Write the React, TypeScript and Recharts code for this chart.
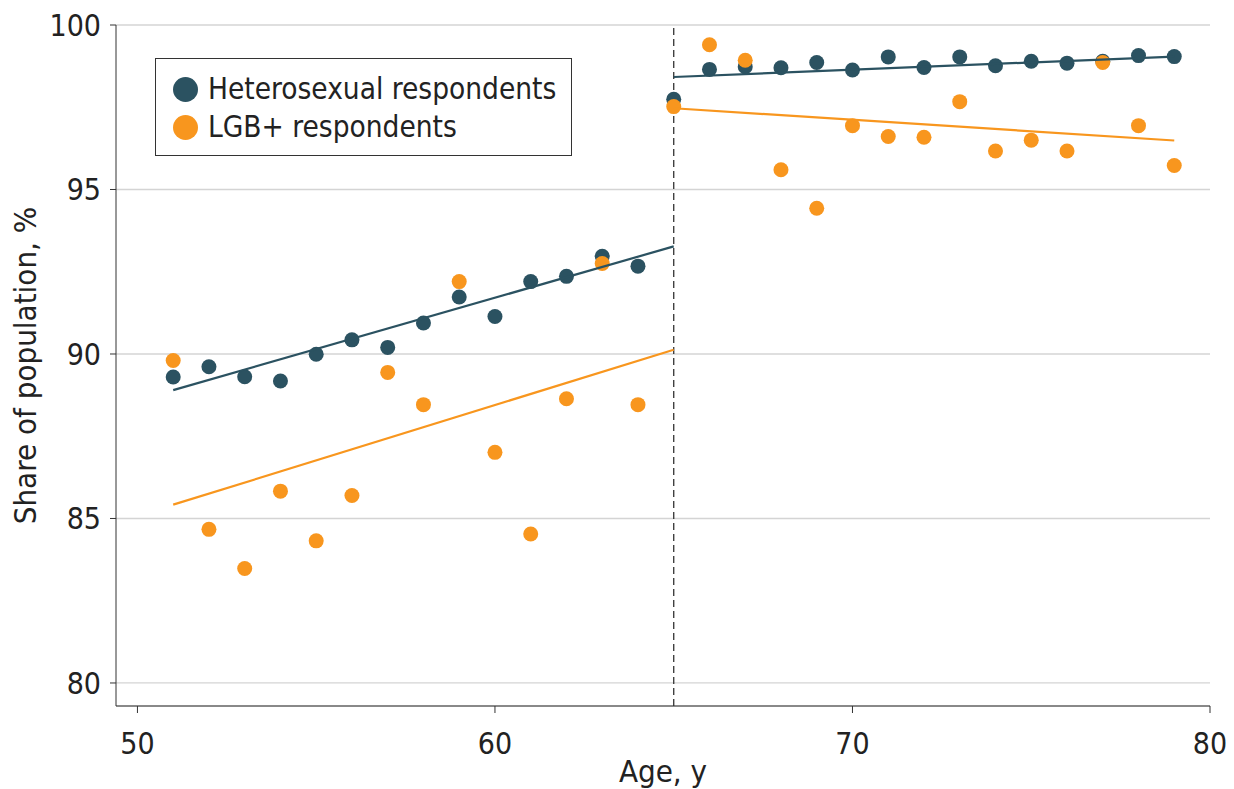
import { ScatterChart, Scatter, XAxis, YAxis, CartesianGrid, ReferenceLine } from 'recharts';

// ages shown on the x axis
const ages = [51, 52, 53, 54, 55, 56, 57, 58, 59, 60, 61, 62, 63, 64, 65, 66, 67, 68, 69, 70, 71, 72, 73, 74, 75, 76, 77, 78, 79];

// share of population, %
const heteroShare = [
  89.3, 89.61, 89.31, 89.18, 89.99, 90.43, 90.2, 90.94, 91.73, 91.14, 92.2, 92.36, 92.97, 92.67,
  97.74, 98.65, 98.73, 98.7, 98.86, 98.63, 99.03, 98.71, 99.03, 98.76, 98.9, 98.84, 98.9, 99.07, 99.04,
];
const lgbShare = [
  89.8, 84.67, 83.48, 85.83, 84.32, 85.7, 89.44, 88.46, 92.2, 87.01, 84.53, 88.64, 92.75, 88.46,
  97.52, 99.4, 98.93, 95.6, 94.43, 96.94, 96.61, 96.59, 97.67, 96.17, 96.5, 96.17, 98.86, 96.94, 95.73,
];

// fitted lines, before and after 65
const trendLeftAges = [51, 65];
const trendRightAges = [65, 79];
const heteroTrendLeft = [88.9, 93.27];
const heteroTrendRight = [98.42, 99.04];
const lgbTrendLeft = [85.42, 90.13];
const lgbTrendRight = [97.47, 96.49];

const xTicks = [50, 60, 70, 80];
const yTicks = [80, 85, 90, 95, 100];

const DARK = '#2b5261';
const ORANGE = '#f8961e';
const FONT = "'Liberation Sans Narrow', 'DejaVu Sans Condensed', 'Roboto', sans-serif";

const toPoints = (xs: number[], ys: number[]) => xs.map((age, i) => ({ age, share: ys[i] }));

const heteroData = toPoints(ages, heteroShare);
const lgbData = toPoints(ages, lgbShare);

const legendItems = [
  { name: 'Heterosexual respondents', color: DARK },
  { name: 'LGB+ respondents', color: ORANGE },
];

const dot = (color: string) => (props: any) => <circle cx={props.cx} cy={props.cy} r={7.5} fill={color} />;
const noDot = () => <g />;

function LegendBox() {
  return (
    <div
      style={{
        position: 'absolute',
        left: 155,
        top: 58,
        border: '1.3px solid #333',
        background: '#fff',
        width: 417,
        height: 98,
        boxSizing: 'border-box',
        padding: '11px 0 0 17px',
        fontFamily: FONT,
        fontSize: 29.5,
        color: '#222',
        lineHeight: '38px',
      }}
    >
      {legendItems.map((item) => (
        <div key={item.name} style={{ display: 'flex', alignItems: 'center' }}>
          <span style={{ width: 25, height: 25, borderRadius: 13, background: item.color, marginRight: 10 }} />
          {item.name}
        </div>
      ))}
    </div>
  );
}

export default function App() {
  const tickStyle = { fontSize: 30, fill: '#222', fontFamily: FONT };
  const labelStyle = { fontSize: 31, fill: '#222', fontFamily: FONT };
  return (
    <div style={{ position: 'absolute', left: 0, top: 0, width: 1234, height: 789, background: '#fff' }}>
      <ScatterChart width={1234} height={789} margin={{ top: 25, right: 24, left: 0, bottom: 0 }}>
        <CartesianGrid vertical={false} stroke="#d4d4d4" strokeWidth={1.3} />
        <XAxis
          type="number"
          dataKey="age"
          domain={[49.4, 80]}
          ticks={xTicks}
          allowDataOverflow
          height={83}
          tickSize={7}
          tickMargin={20}
          stroke="#333"
          tick={tickStyle}
          label={{ value: 'Age, y', position: 'insideBottom', offset: 7, style: labelStyle }}
        />
        <YAxis
          type="number"
          dataKey="share"
          domain={[79.3, 100]}
          ticks={yTicks}
          allowDataOverflow
          width={116}
          tickSize={6}
          tickMargin={9}
          stroke="#333"
          tick={tickStyle}
          label={{
            value: 'Share of population, %',
            angle: -90,
            position: 'insideLeft',
            offset: 25,
            style: { ...labelStyle, textAnchor: 'middle' },
          }}
        />
        <ReferenceLine x={65} stroke="#333" strokeWidth={1.3} strokeDasharray="7 4" />
        <Scatter name="Heterosexual respondents" data={heteroData} fill={DARK} shape={dot(DARK)} isAnimationActive={false} />
        <Scatter name="LGB+ respondents" data={lgbData} fill={ORANGE} shape={dot(ORANGE)} isAnimationActive={false} />
        <Scatter data={toPoints(trendLeftAges, heteroTrendLeft)} line={{ stroke: DARK, strokeWidth: 2.2 }} shape={noDot} legendType="none" isAnimationActive={false} />
        <Scatter data={toPoints(trendRightAges, heteroTrendRight)} line={{ stroke: DARK, strokeWidth: 2.2 }} shape={noDot} legendType="none" isAnimationActive={false} />
        <Scatter data={toPoints(trendLeftAges, lgbTrendLeft)} line={{ stroke: ORANGE, strokeWidth: 2.2 }} shape={noDot} legendType="none" isAnimationActive={false} />
        <Scatter data={toPoints(trendRightAges, lgbTrendRight)} line={{ stroke: ORANGE, strokeWidth: 2.2 }} shape={noDot} legendType="none" isAnimationActive={false} />
      </ScatterChart>
      <LegendBox />
    </div>
  );
}
